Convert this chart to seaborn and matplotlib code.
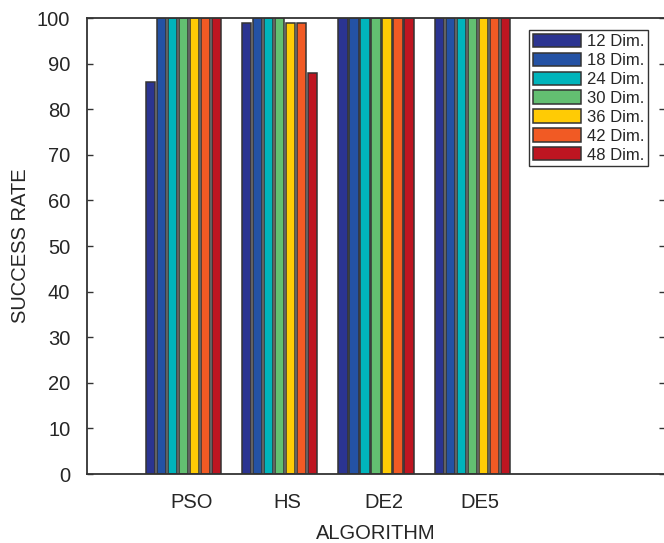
import matplotlib
matplotlib.use("Agg")
import matplotlib.pyplot as plt
import matplotlib.transforms as mtransforms
import pandas as pd
import seaborn as sns

# Success rate (%) per algorithm for each problem dimension
algorithms = ["PSO", "HS", "DE2", "DE5"]
dimensions = ["12 Dim.", "18 Dim.", "24 Dim.", "30 Dim.", "36 Dim.", "42 Dim.", "48 Dim."]
rate_12 = [86, 99, 100, 100]
rate_18 = [100, 100, 100, 100]
rate_24 = [100, 100, 100, 100]
rate_30 = [100, 100, 100, 100]
rate_36 = [100, 99, 100, 100]
rate_42 = [100, 99, 100, 100]
rate_48 = [100, 88, 100, 100]
y_ticks = list(range(0, 101, 10))

colors = ["#2b3491", "#2452a4", "#00b4bb", "#63bf71", "#ffcb05", "#f15a24", "#be1521"]

series = [rate_12, rate_18, rate_24, rate_30, rate_36, rate_42, rate_48]
rows = []
for dim, vals in zip(dimensions, series):
    for alg, v in zip(algorithms, vals):
        rows.append({"ALGORITHM": alg, "Dimension": dim, "SUCCESS RATE": v})
df = pd.DataFrame(rows)

sns.set_theme(style="white")
plt.rcParams["font.family"] = ["Liberation Sans", "DejaVu Sans"]
text_color = "#262626"
spine_color = "#333333"

fig = plt.figure(figsize=(6.64, 5.43), dpi=100)
ax = fig.add_axes([87 / 664, 69 / 543, 578 / 664, 456 / 543])

sns.barplot(
    data=df, x="ALGORITHM", y="SUCCESS RATE", hue="Dimension",
    order=algorithms, hue_order=dimensions, palette=colors,
    saturation=1, width=0.8, gap=0.14,
    edgecolor="#333333", linewidth=1.1, ax=ax, legend=True,
)

ax.set_xlim(-1, 5)
ax.set_ylim(0, 100)
ax.set_yticks(y_ticks)
ax.set_yticklabels([str(t) for t in y_ticks])

for side in ["left", "bottom", "top", "right"]:
    ax.spines[side].set_visible(True)
    ax.spines[side].set_color(spine_color)
    ax.spines[side].set_linewidth(1.3)

ax.tick_params(axis="y", which="both", direction="in", length=4.5, width=1.0,
               color=spine_color, left=True, right=True, labelsize=14.5,
               labelcolor=text_color, pad=12)
ax.tick_params(axis="x", length=0, labelsize=14.5, labelcolor=text_color, pad=14)

shift = mtransforms.ScaledTranslation(8 / 100, 0, fig.dpi_scale_trans)
for lbl in ax.get_xticklabels():
    lbl.set_transform(lbl.get_transform() + shift)

ax.set_xlabel("ALGORITHM", fontsize=14.5, color=text_color, labelpad=8)
ax.set_ylabel("SUCCESS RATE", fontsize=14.5, color=text_color, labelpad=5)

handles, labels = ax.get_legend_handles_labels()
ax.legend(
    handles, labels, loc="upper right",
    bbox_to_anchor=(648 / 664, 1 - 30 / 543), bbox_transform=fig.transFigure,
    borderaxespad=0, fontsize=12, frameon=True, fancybox=False,
    edgecolor=spine_color, framealpha=1, handlelength=2.9, handleheight=0.85,
    handletextpad=0.35, labelspacing=0.21, borderpad=0.22, title=None,
)
leg = ax.get_legend()
leg.get_frame().set_linewidth(1.0)
for t in leg.get_texts():
    t.set_color(text_color)

fig.savefig("out.png", dpi=100)
